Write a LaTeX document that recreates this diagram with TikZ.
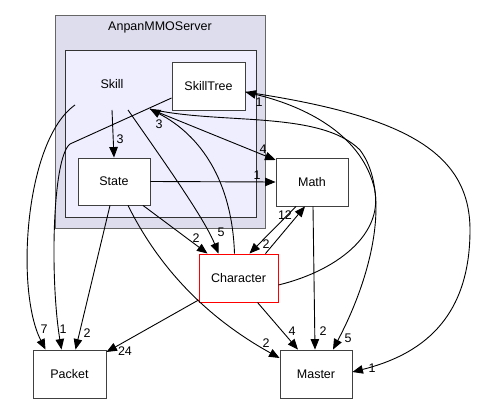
\documentclass[tikz,border=0pt]{standalone}
\usepackage{fontspec}
\setmainfont{Liberation Sans}
\usetikzlibrary{arrows.meta}
\tikzset{>={Triangle[length=10.5pt,width=8.5pt]}}
\definecolor{outerfill}{HTML}{DDDDEE}
\definecolor{innerfill}{HTML}{EEEEFF}
\tikzstyle{every node}=[font=\fontsize{12.5}{15}\selectfont]
\tikzstyle{dirbox}=[draw=black!75,fill=white,line width=0.9pt,minimum width=72pt,minimum height=48pt,inner sep=0pt]
\tikzstyle{dep}=[->,line width=0.9pt]
\tikzstyle{lbl}=[inner sep=0pt]

\begin{document}
\begin{tikzpicture}[x=1pt,y=-1pt]
  \useasboundingbox (0,0) rectangle (488,404);

  % CLUSTERS
  \draw[draw=black!60,fill=outerfill,line width=1pt] (55,16) rectangle (265,228);
  \node (server) at (160,27) {AnpanMMOServer};
  \draw[draw=black!80,fill=innerfill,line width=1pt] (65,51) rectangle (256,217);
  \node (Skill) at (112,84) {Skill};
  \coordinate (skW) at (75,105);  % left exit
  \coordinate (skS) at (112,110); % down exit
  \coordinate (skSE) at (128,110);
  \coordinate (skE) at (150,109); % arrival

  % DIRS
  \node[dirbox,minimum width=73pt] (SkillTree) at (208.5,86) {SkillTree};
  \node[dirbox,minimum height=47pt] (State) at (114,181.5) {State};
  \node[dirbox] (Math) at (312,182) {Math};
  \node[dirbox,draw=red,minimum width=79pt] (Character) at (238.5,278) {Character};
  \node[dirbox,minimum width=73pt] (Packet) at (69.5,374) {Packet};
  \node[dirbox] (Master) at (316,374) {Master};

  % DEPENDENCIES
  \draw[dep] (skS) -- (State.north);
  \draw[dep] (skW) .. controls (25,140) and (15,290) .. ([xshift=-24pt]Packet.north);
  \draw[dep] ([yshift=-12pt]SkillTree.west) -- (70,144)
    .. controls (52,158) and (50,280) .. ([xshift=-8pt]Packet.north);
  \draw[dep] ([xshift=-4pt]State.south) -- ([xshift=6pt]Packet.north);
  \draw[dep] ([xshift=29pt]State.south) -- ([xshift=-31pt]Character.north);
  \draw[dep] (State.east) -- (Math.west);
  \draw[dep] ([xshift=14pt]State.south) .. controls (165,280) and (220,325)
    .. ([yshift=16pt]Master.west);
  \draw[dep] (skSE) .. controls (170,170) and (205,220) .. ([xshift=-20pt]Character.north);
  \draw[dep] ([xshift=-4pt]Character.north) .. controls (232,180) and (200,135) .. (skE);
  \draw[dep] (skE) -- ([yshift=22pt]Math.west);
  \draw[dep] (skE) .. controls (220,125) and (320,110) .. (360,150)
    .. controls (390,190) and (375,270) .. ([xshift=17pt]Master.north);
  \draw[dep] ([yshift=-7pt]Character.east) .. controls (340,270) and (390,230) .. (372,180)
    .. controls (355,130) and (300,105) .. ([yshift=-6pt]SkillTree.east);
  \draw[dep] ([yshift=-6pt]SkillTree.east) .. controls (400,115) and (470,150) .. (470,230)
    .. controls (470,320) and (420,355) .. ([yshift=2pt]Master.east);
  \draw[dep] ([xshift=-16pt]Math.south) -- ([xshift=11pt]Character.north);
  \draw[dep] ([xshift=27pt]Character.north) -- ([xshift=-7pt]Math.south);
  \draw[dep] ([xshift=1pt]Math.south) -- ([xshift=-1pt]Master.north);
  \draw[dep] ([yshift=-22pt]Character.west) -- ([yshift=22pt]Packet.east);
  \draw[dep] ([xshift=19pt]Character.south) -- ([xshift=-18pt]Master.north);

  % LABELS
  \node[lbl] (nSkState) at (120,139) {3};
  \node[lbl] (nSkPacket) at (44,329) {7};
  \node[lbl] (nTreePacket) at (63,329) {1};
  \node[lbl] (nStatePacket) at (87,333) {2};
  \node[lbl] (nStateChar) at (196,238) {2};
  \node[lbl] (nStateMath) at (257,175) {1};
  \node[lbl] (nStateMaster) at (266,343) {2};
  \node[lbl] (nSkChar) at (221,232) {5};
  \node[lbl] (nCharSk) at (159,124) {3};
  \node[lbl] (nSkMath) at (263,149) {4};
  \node[lbl] (nSkMaster) at (348,338) {5};
  \node[lbl] (nCharTree) at (259,102) {1};
  \node[lbl] (nTreeMaster) at (372,368) {1};
  \node[lbl] (nMathChar) at (266,244) {2};
  \node[lbl] (nCharMath) at (285,215) {12};
  \node[lbl] (nMathMaster) at (323,331) {2};
  \node[lbl] (nCharPacket) at (125,351) {24};
  \node[lbl] (nCharMaster) at (292,331) {4};
\end{tikzpicture}
\end{document}
